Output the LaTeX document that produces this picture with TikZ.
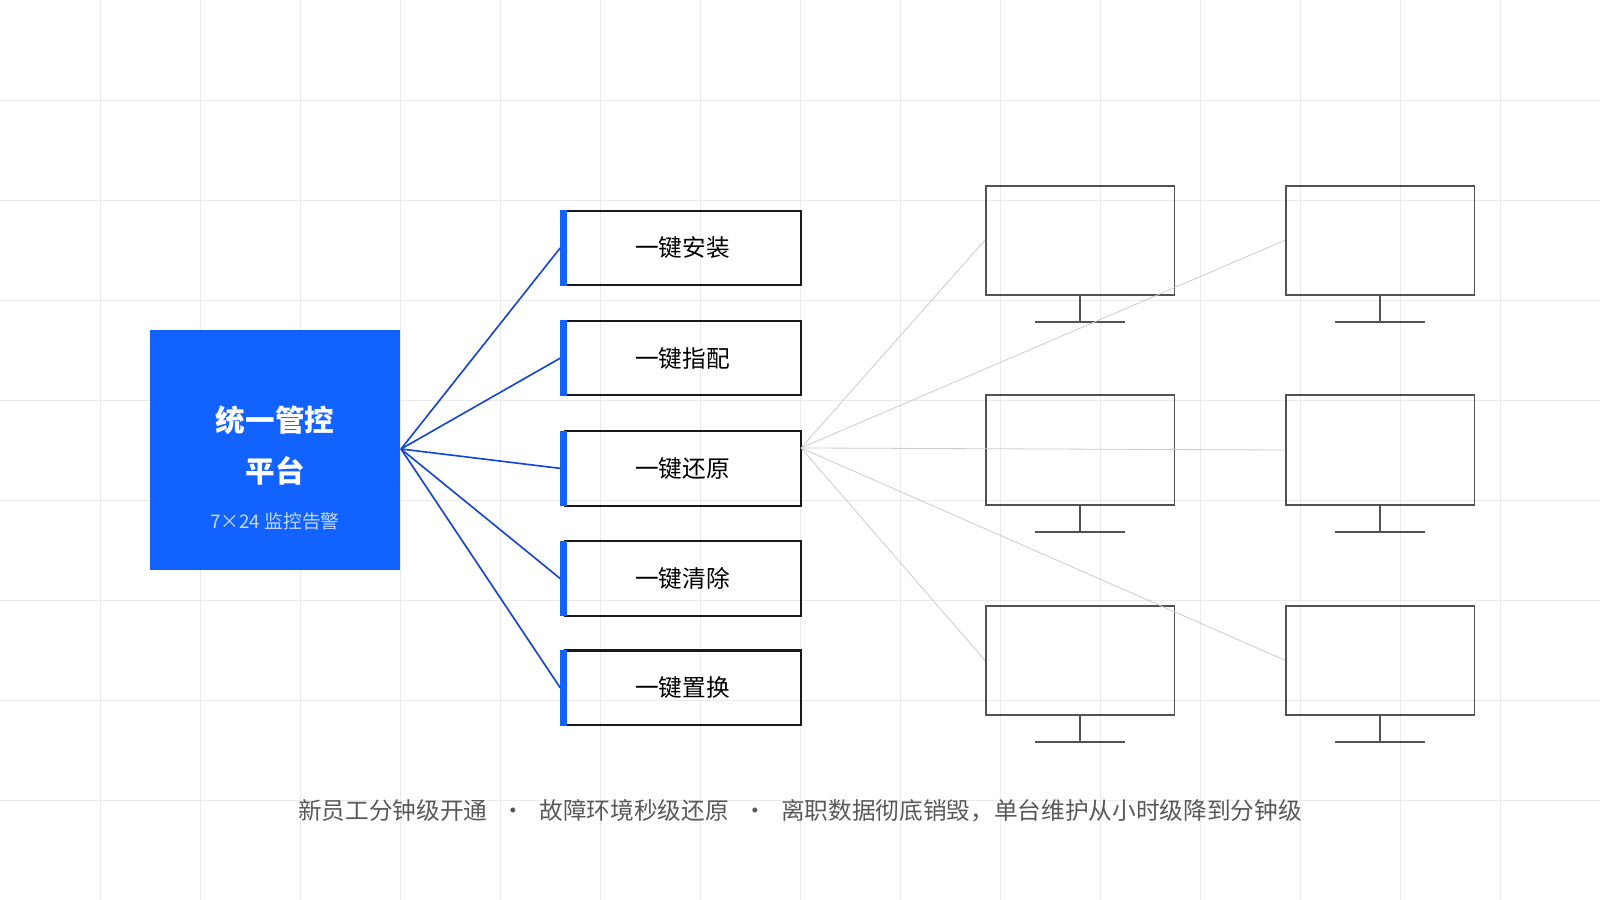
\documentclass[tikz,border=0pt]{standalone}
\usepackage{fontspec}
\setmainfont{Noto Sans CJK SC}
\definecolor{hubblue}{RGB}{17,98,255}
\definecolor{lineblue}{RGB}{20,70,210}
\begin{document}
\begin{tikzpicture}[x=0.5pt,y=-0.5pt,
  opt/.style={draw=black!90,line width=1pt,minimum width=115.5pt,minimum height=36.5pt,inner sep=0pt,font=\fontsize{11.6}{13}\selectfont},
  mon/.style={draw=black!68,line width=0.9pt,minimum width=92.5pt,minimum height=53.5pt,inner sep=0pt},
  stand/.style={draw=black!68,line width=0.9pt},
  bl/.style={draw=lineblue,line width=0.8pt},
  gl/.style={draw=black!20,line width=0.4pt}]
\useasboundingbox (0,0) rectangle (1568,882);
\foreach \i in {1,...,15} \draw[black!8,line width=0.4pt] (\i*98,0) -- (\i*98,882);
\foreach \j in {1,...,8} \draw[black!8,line width=0.4pt] (0,\j*98) -- (1568,\j*98);
\node[fill=hubblue,minimum width=122.5pt,minimum height=118pt,inner sep=0pt] (hub) at (269.5,441) {};
\node[text=white,font=\fontsize{14.5}{16}\selectfont\bfseries,align=center] (t1) at (269.5,412) {统一管控};
\node[text=white,font=\fontsize{14.5}{16}\selectfont\bfseries] (t2) at (269.5,461) {平台};
\node[text=white!75!hubblue,font=\fontsize{9.2}{10}\selectfont] (t3) at (269.5,511) {7×24 监控告警};
\coordinate (hp) at (393,440);
\foreach \n/\y/\t in {o1/243/一键安装,o2/351/一键指配,o3/459/一键还原,o4/567/一键清除,o5/674/一键置换}{
  \node[opt] (\n) at (669,\y) {\t};
  \fill[hubblue] (549,\y-37) rectangle (556,\y+37);
  \draw[bl] (hp) -- (\n.west -| 549,\y);
}
\foreach \n/\x/\y in {m11/1058.5/235.5,m21/1352.5/235.5,m12/1058.5/441,m22/1352.5/441,m13/1058.5/647,m23/1352.5/647}{
  \node[mon] (\n) at (\x,\y) {};
  \draw[stand] (\n.south) -- ++(0,26) coordinate (\n b);
  \draw[stand] ([xshift=-22pt]\n b) -- ([xshift=22pt]\n b);
}
\coordinate (op) at (785,439);
\foreach \n in {m11,m21,m22,m13,m23} \draw[gl] (op) -- (\n.west);
\node[text=black!65,font=\fontsize{11.6}{13}\selectfont] (cap) at (784,795) {新员工分钟级开通\hspace{0.6em}·\hspace{0.6em}故障环境秒级还原\hspace{0.6em}·\hspace{0.6em}离职数据彻底销毁，单台维护从小时级降到分钟级};
\end{tikzpicture}
\end{document}
